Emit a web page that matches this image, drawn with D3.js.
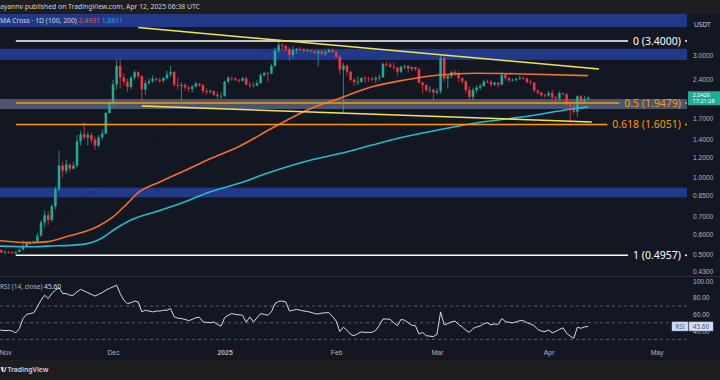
<!DOCTYPE html>
<html>
<head>
<meta charset="utf-8">
<script src="https://cdn.jsdelivr.net/npm/d3@7"></script>
<style>
  html, body { margin: 0; padding: 0; background: #131722; }
  svg { display: block; font-family: "Noto Sans", sans-serif; }
</style>
</head>
<body>
<svg id="chart" width="720" height="380"></svg>
<script>
// ---- data (XRP/USDT, 1D) ----
const firstDay = "2024-10-30";
const firstOpen = 0.525;

// daily closes, Oct 30 2024 -> Apr 12 2025
const closes = [
  0.519, 0.508,
  0.511, 0.509, 0.505, 0.510, 0.520, 0.536, 0.552, 0.553, 0.558, 0.590, 0.665, 0.710, 0.680, 0.770, 0.900,
  1.110, 1.060, 1.120, 1.080, 1.110, 1.380, 1.470, 1.430, 1.460, 1.400, 1.330, 1.430, 1.480, 1.780, 1.950,
  2.300, 2.720, 2.450, 2.360, 2.250, 2.450, 2.570, 2.480, 2.200, 2.330, 2.370, 2.420, 2.400, 2.380, 2.440, 2.520,
  2.570, 2.300, 2.280, 2.290, 2.240, 2.210, 2.260, 2.320, 2.290, 2.170, 2.150, 2.170, 2.100, 2.070, 2.080,
  2.360, 2.440, 2.430, 2.400, 2.380, 2.430, 2.300, 2.290, 2.280, 2.330, 2.500, 2.550, 2.540, 2.720, 3.120, 3.280,
  3.260, 3.170, 3.000, 3.130, 3.170, 3.160, 3.120, 3.130, 3.100, 3.050, 3.100, 3.030, 3.080, 3.140, 3.090,
  2.950, 2.630, 2.730, 2.580, 2.400, 2.350, 2.360, 2.440, 2.430, 2.420, 2.410, 2.440, 2.460, 2.770,
  2.750, 2.700, 2.680, 2.580, 2.700, 2.720, 2.650, 2.690, 2.640, 2.340, 2.290, 2.190, 2.200, 2.140,
  2.170, 2.920, 2.430, 2.480, 2.570, 2.550, 2.440, 2.370, 2.190, 2.060, 2.190, 2.240, 2.270, 2.360, 2.350, 2.300,
  2.340, 2.300, 2.510, 2.440, 2.390, 2.400, 2.420, 2.440, 2.430, 2.350, 2.340, 2.180, 2.140, 2.090, 2.085,
  2.130, 2.050, 2.030, 2.130, 2.110, 1.920, 1.880, 1.800, 2.070, 1.970, 2.020, 2.0426
];
const highs = [
  0.530, 0.523,
  0.518, 0.516, 0.513, 0.516, 0.528, 0.566, 0.560, 0.560, 0.566, 0.605, 0.680, 0.740, 0.735, 0.785, 0.920,
  1.270, 1.150, 1.170, 1.130, 1.150, 1.460, 1.520, 1.640, 1.500, 1.490, 1.440, 1.460, 1.530, 1.800, 1.970,
  2.400, 2.860, 2.900, 2.550, 2.420, 2.480, 2.620, 2.600, 2.500, 2.400, 2.440, 2.500, 2.450, 2.450, 2.460, 2.600,
  2.720, 2.600, 2.450, 2.350, 2.330, 2.280, 2.290, 2.360, 2.330, 2.310, 2.230, 2.200, 2.190, 2.160, 2.140,
  2.380, 2.480, 2.470, 2.450, 2.420, 2.470, 2.470, 2.360, 2.350, 2.390, 2.550, 2.580, 2.580, 2.780, 3.200, 3.400,
  3.330, 3.290, 3.220, 3.260, 3.200, 3.230, 3.190, 3.180, 3.150, 3.120, 3.140, 3.120, 3.130, 3.180, 3.180,
  3.100, 3.000, 2.790, 2.750, 2.600, 2.440, 2.480, 2.460, 2.490, 2.460, 2.470, 2.480, 2.520, 2.800,
  2.820, 2.800, 2.800, 2.690, 2.720, 2.750, 2.740, 2.700, 2.700, 2.670, 2.360, 2.300, 2.270, 2.220,
  2.230, 2.990, 2.950, 2.520, 2.600, 2.630, 2.600, 2.450, 2.390, 2.260, 2.240, 2.280, 2.320, 2.400, 2.410, 2.400,
  2.360, 2.350, 2.590, 2.530, 2.460, 2.430, 2.450, 2.500, 2.470, 2.450, 2.400, 2.350, 2.200, 2.150, 2.130,
  2.170, 2.190, 2.080, 2.160, 2.140, 2.130, 1.980, 1.970, 2.090, 2.090, 2.080, 2.070
];
const lows = [
  0.515, 0.505,
  0.499, 0.503, 0.499, 0.4957, 0.507, 0.516, 0.531, 0.544, 0.548, 0.553, 0.585, 0.640, 0.650, 0.670, 0.750,
  0.880, 1.000, 1.030, 1.050, 1.070, 1.090, 1.330, 1.400, 1.330, 1.360, 1.280, 1.310, 1.400, 1.470, 1.780,
  1.900, 2.200, 2.220, 2.280, 2.150, 2.200, 2.400, 2.420, 1.980, 2.100, 2.280, 2.340, 2.360, 2.330, 2.340, 2.400,
  2.470, 2.250, 2.200, 1.980, 2.180, 2.150, 2.140, 2.240, 2.250, 2.120, 2.100, 2.120, 2.070, 2.020, 2.020,
  2.060, 2.330, 2.380, 2.370, 2.340, 2.360, 2.280, 2.220, 2.240, 2.270, 2.310, 2.480, 2.360, 2.520, 2.700, 3.050,
  3.130, 3.100, 2.850, 2.920, 3.030, 3.110, 3.050, 3.080, 3.070, 3.030, 2.700, 2.990, 2.980, 3.060, 3.050,
  2.930, 2.530, 1.770, 2.500, 2.370, 2.280, 2.290, 2.330, 2.330, 2.350, 2.370, 2.330, 2.380, 2.440,
  2.700, 2.670, 2.630, 2.490, 2.550, 2.640, 2.560, 2.600, 2.600, 2.320, 2.120, 2.150, 2.140, 2.000,
  2.100, 2.120, 2.370, 2.220, 2.440, 2.480, 2.350, 2.320, 2.130, 2.000, 1.990, 2.130, 2.190, 2.260, 2.330, 2.260,
  2.270, 2.240, 2.280, 2.390, 2.350, 2.370, 2.360, 2.400, 2.400, 2.330, 2.300, 2.150, 2.100, 2.050, 2.040,
  2.060, 2.020, 1.970, 2.000, 2.080, 1.900, 1.620, 1.770, 1.720, 1.920, 1.960, 2.010
];

// RSI (14, close), one value per day, same dates as the candles
const rsiValues = [
  42, 41,
  40.5, 41, 40, 38, 43, 55, 60, 61, 62, 69, 77, 83, 79, 85, 89, 92, 85, 85, 83, 83, 87, 90, 88, 86, 84, 82, 84, 86, 89, 91,
  93, 95, 85, 77, 73, 74, 76, 75, 63, 65, 64, 63, 64, 64, 65, 65, 67, 57, 55.5, 55, 54, 52.5, 54, 56, 56.5, 51, 50.5, 50, 51, 48, 46,
  56, 59, 61, 60, 59.5, 59, 50.5, 57, 51, 56, 61, 60, 59, 63, 73, 75.5, 76, 75, 64, 65, 66, 65, 64, 63.5, 62.5, 61, 60.5, 61.5, 62, 62, 57.5,
  52, 39.5, 44.6, 41, 36, 34.5, 37, 39, 38.5, 38.5, 38.5, 41, 47, 54.5, 54.5, 54, 50, 46.5, 54, 53, 50, 47, 46.5, 36.5, 38.5, 34.5, 34, 33.3,
  36.5, 63, 47.5, 49, 51, 52, 48, 45, 41, 38.5, 43, 45, 46, 49, 50, 47.5, 48.5, 48, 55, 51.5, 50.5, 50, 51, 52.5, 52.5, 50, 48.5, 46.5, 42, 40, 39.5,
  41.3, 38, 39.5, 42, 44, 37.4, 34, 31.5, 44.6, 43.4, 45, 45.6
];

// moving averages read at a few dates
const ma100Points = [
  ["2024-10-30", 0.566], ["2024-11-08", 0.555], ["2024-11-13", 0.560], ["2024-11-18", 0.585],
  ["2024-11-23", 0.612], ["2024-11-27", 0.645], ["2024-12-01", 0.700], ["2024-12-05", 0.790],
  ["2024-12-08", 0.870], ["2024-12-14", 0.958], ["2024-12-21", 1.062], ["2024-12-28", 1.180],
  ["2025-01-05", 1.318], ["2025-01-14", 1.548], ["2025-01-24", 1.830], ["2025-02-02", 2.035],
  ["2025-02-11", 2.255], ["2025-02-20", 2.395], ["2025-03-01", 2.500], ["2025-03-12", 2.545],
  ["2025-03-25", 2.530], ["2025-04-12", 2.4931]
];
const ma200Points = [
  ["2024-10-30", 0.538], ["2024-11-08", 0.535], ["2024-11-13", 0.538], ["2024-11-22", 0.545],
  ["2024-11-28", 0.579], ["2024-12-02", 0.633], ["2024-12-06", 0.680], ["2024-12-14", 0.741],
  ["2024-12-21", 0.802], ["2024-12-28", 0.877], ["2025-01-05", 0.946], ["2025-01-13", 1.038],
  ["2025-01-25", 1.167], ["2025-02-02", 1.237], ["2025-02-11", 1.335], ["2025-02-20", 1.439],
  ["2025-03-01", 1.526], ["2025-03-11", 1.620], ["2025-03-27", 1.736], ["2025-04-07", 1.841],
  ["2025-04-12", 1.8811]
];

// fibonacci retracement
const fibRatios = ["0", "0.5", "0.618", "1"];
const fibPrices = [3.4, 1.9479, 1.6051, 0.4957];
const fibColors = ["#ffffff", "#ff9800", "#ff9800", "#ffffff"];
const fibStart = "2024-11-04";
const fibHigh = ["2025-01-16", 3.4];

// zones (price top, price bottom)
const blueZones = [[4.6, 3.86], [3.17, 2.87], [0.91, 0.834]];
const greyZones = [[2.02, 1.846]];

// hand drawn trend lines
const trendLines = [
  [["2024-12-08", 3.84], ["2025-04-15", 2.645]],
  [["2024-12-09", 1.896], ["2025-04-13", 1.642]]
];

const priceTicks = [3.0, 2.4, 1.7, 1.4, 1.2, 1.0, 0.85, 0.7, 0.6, 0.5, 0.43];
const rsiTicks = [100, 80, 60, 40];
const rsiBands = [70, 50, 30];
const monthTicks = ["2024-11-01", "2024-12-01", "2025-01-01", "2025-02-01", "2025-03-01", "2025-04-01", "2025-05-01"];
const monthLabels = ["Nov", "Dec", "2025", "Feb", "Mar", "Apr", "May"];

// ---- layout ----
const plotRight = 687;
const paneTop = 14, paneBottom = 276;
const rsiTop = 277, rsiBottom = 346;

const parseDay = d3.utcParse("%Y-%m-%d");
const svg = d3.select("#chart");

const x = d3.scaleUtc()
    .domain([parseDay("2024-11-01"), parseDay("2025-05-01")])
    .range([5, 656.6]);
const y = d3.scaleLog().domain([3, 0.5]).range([55, 254.25]);
const yRsi = d3.scaleLinear().domain([100, 0]).range([281, 364.5]);

// backgrounds
svg.append("rect").attr("width", 720).attr("height", 380).attr("fill", "#131722");
svg.append("rect").attr("width", 720).attr("height", paneTop).attr("fill", "#1e1e1e");
svg.append("rect").attr("y", 360).attr("width", 720).attr("height", 20).attr("fill", "#1e1e1e");

const defs = svg.append("defs");
defs.append("clipPath").attr("id", "priceClip").append("rect")
    .attr("x", 0).attr("y", paneTop).attr("width", plotRight).attr("height", paneBottom - paneTop);
defs.append("clipPath").attr("id", "rsiClip").append("rect")
    .attr("x", 0).attr("y", rsiTop).attr("width", plotRight).attr("height", rsiBottom - rsiTop);

// separator between the panes
svg.append("line").attr("x1", 0).attr("x2", 720).attr("y1", paneBottom + 0.5).attr("y2", paneBottom + 0.5)
    .attr("stroke", "#2a2e39").attr("stroke-width", 1);

const price = svg.append("g").attr("clip-path", "url(#priceClip)");

// zones
price.selectAll("rect.blue").data(blueZones).enter().append("rect")
    .attr("class", "blue")
    .attr("x", 0).attr("width", plotRight)
    .attr("y", d => y(d[0])).attr("height", d => y(d[1]) - y(d[0]))
    .attr("fill", "#22398a");
price.selectAll("rect.grey").data(greyZones).enter().append("rect")
    .attr("class", "grey")
    .attr("x", 0).attr("width", plotRight)
    .attr("y", d => y(d[0])).attr("height", d => y(d[1]) - y(d[0]))
    .attr("fill", "#4a5670");

// candles
const candles = closes.map((c, i) => ({
    date: d3.utcDay.offset(parseDay(firstDay), i),
    open: i === 0 ? firstOpen : closes[i - 1],
    high: highs[i], low: lows[i], close: c
}));
const up = "#22ab94", down = "#f23645";

const candle = price.selectAll("g.candle").data(candles).enter().append("g").attr("class", "candle");
candle.append("line")
    .attr("x1", d => x(d.date)).attr("x2", d => x(d.date))
    .attr("y1", d => y(d.high)).attr("y2", d => y(d.low))
    .attr("stroke", d => d.close >= d.open ? up : down).attr("stroke-width", 0.8);
candle.append("rect")
    .attr("x", d => x(d.date) - 1.25).attr("width", 2.5)
    .attr("y", d => y(Math.max(d.open, d.close)))
    .attr("height", d => Math.max(0.8, Math.abs(y(d.open) - y(d.close))))
    .attr("fill", d => d.close >= d.open ? up : down);

// moving averages
const maLine = d3.line().curve(d3.curveMonotoneX)
    .x(d => x(parseDay(d[0]))).y(d => y(d[1]));
price.append("path").datum(ma100Points).attr("d", maLine)
    .attr("fill", "none").attr("stroke", "#f0712c").attr("stroke-width", 1.6);
price.append("path").datum(ma200Points).attr("d", maLine)
    .attr("fill", "none").attr("stroke", "#25b9d0").attr("stroke-width", 1.6);

// fib diagonal (dotted)
price.append("line")
    .attr("x1", x(parseDay(fibStart))).attr("y1", y(fibPrices[3]))
    .attr("x2", x(parseDay(fibHigh[0]))).attr("y2", y(fibHigh[1]))
    .attr("stroke", "#000").attr("stroke-opacity", 0.7)
    .attr("stroke-width", 1).attr("stroke-dasharray", "1,3");

// fib levels with labels
fibPrices.forEach(function (p, i) {
    const yy = y(p);
    const label = svg.append("text")
        .attr("x", 681).attr("y", yy).attr("dy", "0.35em")
        .attr("text-anchor", "end")
        .style("font-size", "10.5px")
        .attr("fill", fibColors[i])
        .text(fibRatios[i] + " (" + d3.format(".4f")(p) + ")");
    const startX = label.node().getBBox().x;
    price.append("line")
        .attr("x1", x(parseDay(fibStart))).attr("x2", startX - 5)
        .attr("y1", yy).attr("y2", yy)
        .attr("stroke", fibColors[i]).attr("stroke-width", 1.5);
    svg.append("circle").attr("cx", 686).attr("cy", yy).attr("r", 1)
        .attr("fill", fibColors[i]);
});

// trend lines
price.selectAll("line.trend").data(trendLines).enter().append("line")
    .attr("class", "trend")
    .attr("x1", d => x(parseDay(d[0][0]))).attr("y1", d => y(d[0][1]))
    .attr("x2", d => x(parseDay(d[1][0]))).attr("y2", d => y(d[1][1]))
    .attr("stroke", "#f2e552").attr("stroke-width", 1.5);

// price axis
const priceAxis = svg.append("g")
    .attr("transform", "translate(693,0)")
    .call(d3.axisRight(y).tickValues(priceTicks).tickFormat(d3.format(".4f")).tickSize(0).tickPadding(0));
priceAxis.select(".domain").remove();
priceAxis.selectAll("text").attr("fill", "#b2b5be").style("font-size", "6.6px");

svg.append("text").attr("x", 694).attr("y", 24.5).attr("dy", "0.35em")
    .attr("fill", "#d1d4dc").style("font-size", "6.6px").text("USDT");

// last price tag
const last = candles[candles.length - 1];
const tagY = y(last.close);
svg.append("rect").attr("x", 688).attr("y", tagY - 6.5).attr("width", 32).attr("height", 14)
    .attr("fill", "#22ab94");
svg.append("text").attr("x", 692.5).attr("y", tagY - 3.2).attr("dy", "0.35em")
    .attr("fill", "#ffffff").style("font-size", "5.6px").text(d3.format(".4f")(last.close));
svg.append("text").attr("x", 692.5).attr("y", tagY + 3).attr("dy", "0.35em")
    .attr("fill", "#ffffff").style("font-size", "5.6px").text("17:21:28");

// legend
const legend = svg.append("text").attr("x", 0).attr("y", 21).attr("dy", "0.35em")
    .style("font-size", "6.8px");
legend.append("tspan").attr("fill", "#d1d4dc").text("MA Cross · 1D (100, 200) ");
legend.append("tspan").attr("fill", "#e8554e").text(" " + d3.format(".4f")(ma100Points[ma100Points.length - 1][1]));
legend.append("tspan").attr("fill", "#3a9be0").text("  " + d3.format(".4f")(ma200Points[ma200Points.length - 1][1]));

// ---- RSI pane ----
const rsi = svg.append("g").attr("clip-path", "url(#rsiClip)");
rsi.selectAll("line.band").data(rsiBands).enter().append("line")
    .attr("class", "band")
    .attr("x1", 0).attr("x2", plotRight)
    .attr("y1", d => yRsi(d)).attr("y2", d => yRsi(d))
    .attr("stroke", "#787b86").attr("stroke-width", 0.7).attr("stroke-dasharray", "3,3");

const rsiLine = d3.line()
    .x((d, i) => x(candles[i].date)).y(d => yRsi(d));
rsi.append("path").datum(rsiValues).attr("d", rsiLine)
    .attr("fill", "none").attr("stroke", "#d6dbe6").attr("stroke-width", 1);

const rsiAxis = svg.append("g")
    .attr("transform", "translate(693,0)")
    .call(d3.axisRight(yRsi).tickValues(rsiTicks).tickFormat(d3.format(".2f")).tickSize(0).tickPadding(0));
rsiAxis.select(".domain").remove();
rsiAxis.selectAll("text").attr("fill", "#b2b5be").style("font-size", "6.6px");

const rsiLast = rsiValues[rsiValues.length - 1];
svg.append("rect").attr("x", 672).attr("y", yRsi(rsiLast) - 4.5).attr("width", 16).attr("height", 9)
    .attr("fill", "#d5def2").attr("stroke", "#9fb3dd").attr("stroke-width", 0.5);
svg.append("text").attr("x", 680).attr("y", yRsi(rsiLast)).attr("dy", "0.35em").attr("text-anchor", "middle")
    .attr("fill", "#4a5a80").style("font-size", "6.4px").text("RSI");
svg.append("rect").attr("x", 689).attr("y", yRsi(rsiLast) - 4.5).attr("width", 24).attr("height", 9)
    .attr("fill", "#d5def2").attr("stroke", "#9fb3dd").attr("stroke-width", 0.5);
svg.append("text").attr("x", 701).attr("y", yRsi(rsiLast)).attr("dy", "0.35em").attr("text-anchor", "middle")
    .attr("fill", "#4a5a80").style("font-size", "6.4px").text(d3.format(".2f")(rsiLast));

const rsiLegend = svg.append("text").attr("x", 0).attr("y", 287).attr("dy", "0.35em")
    .style("font-size", "6.6px");
rsiLegend.append("tspan").attr("fill", "#b2b5be").text("RSI (14, close) ");
rsiLegend.append("tspan").attr("fill", "#d6dbe6").text(" " + d3.format(".2f")(rsiLast));

// ---- time axis ----
const timeAxis = svg.append("g")
    .attr("transform", "translate(0,350)")
    .call(d3.axisBottom(x).tickValues(monthTicks.map(parseDay))
        .tickFormat((d, i) => monthLabels[i]).tickSize(0).tickPadding(0));
timeAxis.select(".domain").remove();
timeAxis.selectAll("text").attr("fill", "#b2b5be").style("font-size", "6.8px")
    .style("font-weight", (d, i) => monthLabels[i] === "2025" ? "bold" : "normal");

// ---- header / footer ----
svg.append("text").attr("x", 0).attr("y", 7).attr("dy", "0.35em")
    .attr("fill", "#d1d4dc").style("font-size", "6.8px")
    .text("ayannv published on TradingView.com, Apr 12, 2025 06:38 UTC");

svg.append("path").attr("d", "M0.5,367 h3 v5 h-1.5 z M3.8,372 l1.6,-5 h1.2 l-1.6,5 z").attr("fill", "#d1d4dc");
svg.append("text").attr("x", 7.5).attr("y", 370).attr("dy", "0.35em")
    .attr("fill", "#d1d4dc").style("font-size", "6.8px").style("font-weight", "600")
    .text("TradingView");
</script>
</body>
</html>
